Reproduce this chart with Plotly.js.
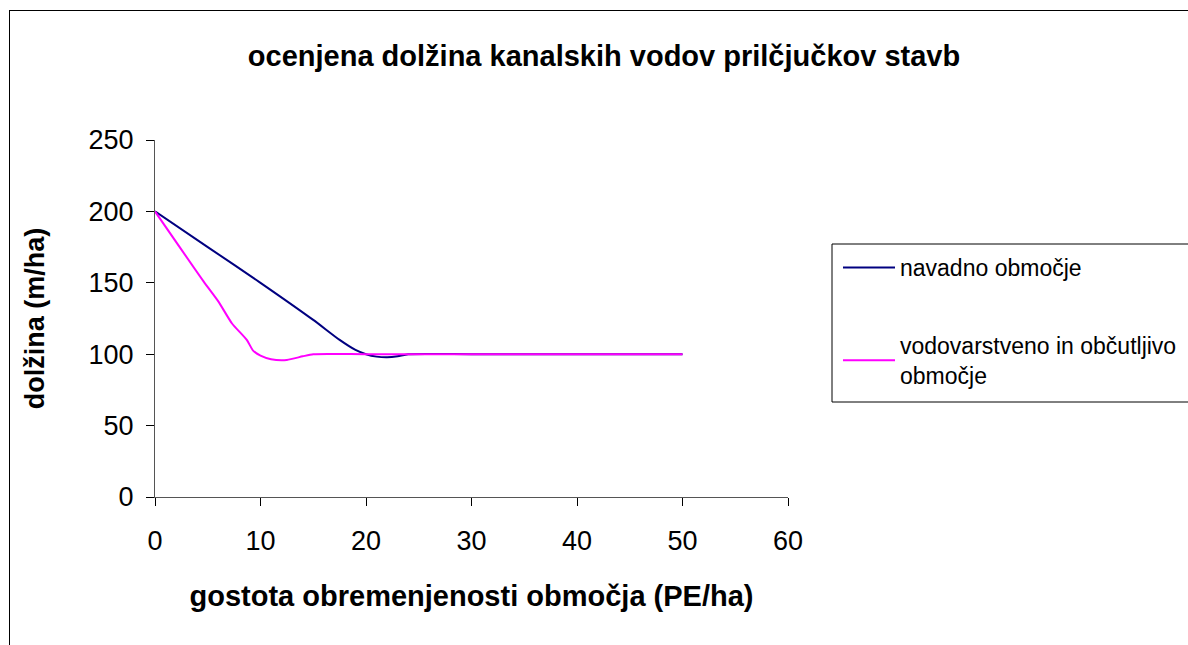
<!DOCTYPE html>
<html><head><meta charset="utf-8">
<script src="https://cdn.plot.ly/plotly-3.0.1.min.js"></script>
<style>
html,body{margin:0;padding:0;background:#fff;overflow:hidden;}
#frame{position:absolute;left:9px;top:10px;width:1300px;height:800px;border:1px solid #000;box-sizing:border-box;}
#chart{position:absolute;left:0;top:0;width:1188px;height:645px;}
</style></head>
<body>
<div id="frame"></div>
<div id="chart"></div>
<script>
const titleText = "ocenjena dolžina kanalskih vodov prilčjučkov stavb";
const xTitle = "gostota obremenjenosti območja (PE/ha)";
const yTitle = "dolžina (m/ha)";
const seriesNames = ["navadno območje", "vodovarstveno in občutljivo<br>območje"];

const navadnoX = [0, 5, 10, 15, 17.5, 19, 20, 21, 22, 23, 24, 30, 40, 50];
const navadnoY = [200, 175, 150, 124, 110, 103, 100, 98.3, 97.8, 98.5, 100, 100, 100, 100];

const vodovarstX = [0, 4.6, 6, 7.3, 8.7, 9.3, 10, 11, 12.5, 14, 15, 20, 30, 40, 50];
const vodovarstY = [200, 151, 137, 121.5, 110, 102.5, 99, 96.5, 96, 98.5, 100, 100, 100, 100, 100];

const xTicks = [0, 10, 20, 30, 40, 50, 60];
const yTicks = [0, 50, 100, 150, 200, 250];

const font = "Liberation Sans, Arial, sans-serif";

const traces = [
  {x: navadnoX, y: navadnoY, name: seriesNames[0], mode: "lines", legendgroup: "a",
   line: {color: "#000080", width: 2, shape: "spline", smoothing: 0.6}},
  {x: vodovarstX, y: vodovarstY, name: seriesNames[1], mode: "lines", legendgroup: "b",
   line: {color: "#FF00FF", width: 2, shape: "spline", smoothing: 0.6}}
];

const pxX = v => (v - 155) / 633;
const pxY = v => (497 - v) / 357;

const layout = {
  width: 1188, height: 645,
  paper_bgcolor: "rgba(0,0,0,0)", plot_bgcolor: "rgba(0,0,0,0)",
  margin: {l: 155, r: 400, t: 140, b: 148, autoexpand: false},
  title: {text: "<b>" + titleText + "</b>", font: {family: font, size: 29, color: "#000"},
          x: 604/1188, xanchor: "center", y: 1 - 56/645, yanchor: "middle"},
  xaxis: {range: [0, 60], tickvals: xTicks, ticktext: xTicks.map(String),
          showgrid: false, zeroline: false, showline: true, linecolor: "#555", linewidth: 1,
          ticks: "outside", ticklen: 8, tickcolor: "#000", ticklabelstandoff: 12,
          tickfont: {family: font, size: 27, color: "#000"},
          title: {text: "<b>" + xTitle + "</b>", font: {family: font, size: 29, color: "#000"}, standoff: 30}},
  yaxis: {range: [0, 250], tickvals: yTicks, ticktext: yTicks.map(String),
          showgrid: false, zeroline: false, showline: true, linecolor: "#555", linewidth: 1,
          ticks: "outside", ticklen: 8, tickcolor: "#000", ticklabelstandoff: 7,
          tickfont: {family: font, size: 27, color: "#000"},
          title: {text: "<b>" + yTitle + "</b>", font: {family: font, size: 27, color: "#000"}, standoff: 36}},
  shapes: [{type: "rect", xref: "paper", yref: "paper",
            x0: pxX(832), x1: pxX(1300), y0: pxY(402), y1: pxY(244),
            line: {color: "#000", width: 1}, fillcolor: "rgba(0,0,0,0)", layer: "below"}],
  legend: {x: pxX(838), xanchor: "left", y: pxY(246), yanchor: "top",
           borderwidth: 0, bgcolor: "rgba(0,0,0,0)",
           font: {family: font, size: 23, color: "#000"},
           traceorder: "grouped", tracegroupgap: 45, itemwidth: 52},
  showlegend: true
};

Plotly.newPlot("chart", traces, layout, {displayModeBar: false, staticPlot: true});
</script>
</body></html>
